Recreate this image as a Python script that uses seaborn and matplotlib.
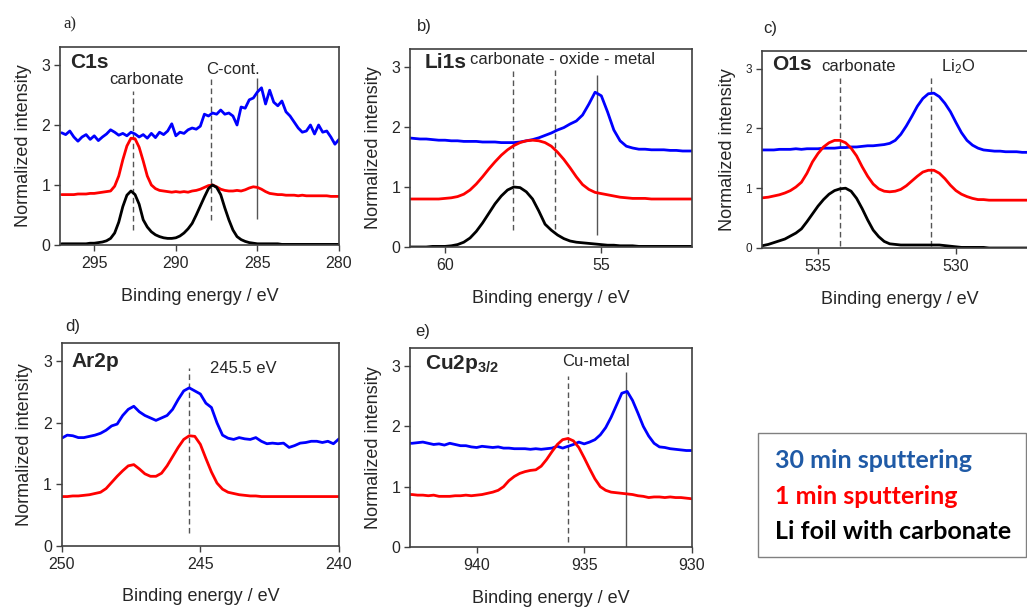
import matplotlib
matplotlib.use("Agg")
import matplotlib.pyplot as plt
import seaborn as sns
from matplotlib.patches import Rectangle

# ---------------- data ----------------
# a) C1s
E_C1s = [297.0, 296.75, 296.5, 296.25, 296.0, 295.75, 295.5, 295.25,
         295.0, 294.75, 294.5, 294.25, 294.0, 293.75, 293.5, 293.25,
         293.0, 292.75, 292.5, 292.25, 292.0, 291.75, 291.5, 291.25,
         291.0, 290.75, 290.5, 290.25, 290.0, 289.75, 289.5, 289.25,
         289.0, 288.75, 288.5, 288.25, 288.0, 287.75, 287.5, 287.25,
         287.0, 286.75, 286.5, 286.25, 286.0, 285.75, 285.5, 285.25,
         285.0, 284.75, 284.5, 284.25, 284.0, 283.75, 283.5, 283.25,
         283.0, 282.75, 282.5, 282.25, 282.0, 281.75, 281.5, 281.25,
         281.0, 280.75, 280.5, 280.25, 280.0]
C1s_foil = [0.02, 0.02, 0.02, 0.02, 0.02, 0.02, 0.02, 0.03,
            0.03, 0.04, 0.05, 0.07, 0.11, 0.20, 0.38, 0.64,
            0.83, 0.90, 0.84, 0.68, 0.42, 0.30, 0.22, 0.17,
            0.14, 0.12, 0.11, 0.11, 0.12, 0.15, 0.20, 0.27,
            0.36, 0.50, 0.65, 0.80, 0.94, 1.00, 0.96, 0.84,
            0.62, 0.42, 0.25, 0.14, 0.09, 0.06, 0.04, 0.03,
            0.02, 0.02, 0.02, 0.02, 0.02, 0.02, 0.01, 0.01,
            0.01, 0.01, 0.01, 0.01, 0.01, 0.01, 0.01, 0.01,
            0.01, 0.01, 0.01, 0.01, 0.01]
C1s_1min = [0.84, 0.84, 0.84, 0.84, 0.85, 0.85, 0.85, 0.86,
            0.86, 0.87, 0.88, 0.89, 0.90, 0.98, 1.15, 1.42,
            1.65, 1.78, 1.77, 1.63, 1.40, 1.15, 1.00, 0.94,
            0.91, 0.90, 0.89, 0.88, 0.89, 0.88, 0.89, 0.88,
            0.90, 0.91, 0.93, 0.96, 0.99, 1.00, 0.97, 0.93,
            0.91, 0.90, 0.90, 0.91, 0.90, 0.92, 0.95, 0.97,
            0.96, 0.93, 0.89, 0.86, 0.85, 0.84, 0.84, 0.83,
            0.83, 0.83, 0.82, 0.83, 0.82, 0.82, 0.82, 0.82,
            0.82, 0.82, 0.81, 0.81, 0.81]
C1s_30min = [1.87, 1.84, 1.90, 1.80, 1.73, 1.80, 1.84, 1.76,
             1.82, 1.74, 1.80, 1.85, 1.92, 1.88, 1.83, 1.86,
             1.82, 1.88, 1.85, 1.80, 1.84, 1.78, 1.86, 1.79,
             1.88, 1.84, 1.90, 2.02, 1.82, 1.88, 1.86, 1.92,
             1.95, 1.93, 1.98, 2.18, 2.15, 2.20, 2.18, 2.25,
             2.18, 2.20, 2.15, 2.00, 2.30, 2.28, 2.42, 2.45,
             2.55, 2.62, 2.35, 2.58, 2.38, 2.32, 2.40, 2.22,
             2.15, 2.05, 1.95, 1.88, 1.90, 2.00, 1.85, 2.00,
             1.88, 1.90, 1.80, 1.68, 1.76]

# b) Li1s
E_Li1s = [61.2, 61.0, 60.8, 60.6, 60.4,
          60.2, 60.0, 59.8, 59.6, 59.4,
          59.2, 59.0, 58.8, 58.6, 58.4,
          58.2, 58.0, 57.8, 57.6, 57.4,
          57.2, 57.0, 56.8, 56.6, 56.4,
          56.2, 56.0, 55.8, 55.6, 55.4,
          55.2, 55.0, 54.8, 54.6, 54.4,
          54.2, 54.0, 53.8, 53.6, 53.4,
          53.2, 53.0, 52.8, 52.6, 52.4,
          52.2, 52.0]
Li1s_foil = [0.00, 0.00, 0.00, 0.00, 0.01,
             0.01, 0.01, 0.02, 0.04, 0.08,
             0.15, 0.26, 0.40, 0.56, 0.72,
             0.85, 0.95, 1.00, 0.99, 0.92,
             0.80, 0.60, 0.38, 0.28, 0.20,
             0.14, 0.10, 0.08, 0.07, 0.06,
             0.05, 0.04, 0.03, 0.03, 0.02,
             0.02, 0.02, 0.01, 0.01, 0.01,
             0.01, 0.01, 0.01, 0.01, 0.01,
             0.01, 0.01]
Li1s_1min = [0.80, 0.80, 0.80, 0.80, 0.80,
             0.80, 0.81, 0.82, 0.84, 0.88,
             0.95, 1.05, 1.17, 1.30, 1.42,
             1.53, 1.62, 1.69, 1.74, 1.77,
             1.78, 1.77, 1.74, 1.68, 1.58,
             1.46, 1.32, 1.17, 1.04, 0.96,
             0.91, 0.89, 0.87, 0.85, 0.83,
             0.82, 0.81, 0.81, 0.81, 0.80,
             0.80, 0.80, 0.80, 0.80, 0.80,
             0.80, 0.80]
Li1s_30min = [1.82, 1.81, 1.80, 1.80, 1.79,
              1.78, 1.78, 1.77, 1.77, 1.76,
              1.76, 1.76, 1.75, 1.75, 1.75,
              1.74, 1.74, 1.74, 1.75, 1.77,
              1.79, 1.82, 1.86, 1.90, 1.95,
              1.99, 2.05, 2.10, 2.20, 2.38,
              2.58, 2.52, 2.25, 1.95, 1.77,
              1.68, 1.65, 1.63, 1.63, 1.62,
              1.62, 1.62, 1.61, 1.61, 1.60,
              1.60, 1.60]

# c) O1s
E_O1s = [537.2, 537.0, 536.8, 536.6, 536.4,
         536.2, 536.0, 535.8, 535.6, 535.4,
         535.2, 535.0, 534.8, 534.6, 534.4,
         534.2, 534.0, 533.8, 533.6, 533.4,
         533.2, 533.0, 532.8, 532.6, 532.4,
         532.2, 532.0, 531.8, 531.6, 531.4,
         531.2, 531.0, 530.8, 530.6, 530.4,
         530.2, 530.0, 529.8, 529.6, 529.4,
         529.2, 529.0, 528.8, 528.6, 528.4,
         528.2, 528.0, 527.8, 527.6, 527.4,
         527.2, 527.0]
O1s_foil = [0.03, 0.04, 0.06, 0.09, 0.12,
            0.15, 0.20, 0.25, 0.32, 0.44,
            0.57, 0.70, 0.81, 0.90, 0.96,
            0.99, 1.00, 0.95, 0.83, 0.66,
            0.47, 0.30, 0.19, 0.11, 0.07,
            0.06, 0.05, 0.05, 0.05, 0.05,
            0.05, 0.05, 0.05, 0.05, 0.04,
            0.03, 0.02, 0.01, 0.01, 0.01,
            0.01, 0.01, 0.00, 0.00, 0.00,
            0.00, 0.00, 0.00, 0.00, 0.00,
            0.00, 0.00]
O1s_1min = [0.83, 0.84, 0.85, 0.87, 0.89,
            0.92, 0.96, 1.02, 1.10, 1.25,
            1.44, 1.58, 1.69, 1.76, 1.80,
            1.80, 1.76, 1.67, 1.54, 1.36,
            1.20, 1.07, 0.99, 0.95, 0.94,
            0.95, 0.98, 1.04, 1.12, 1.20,
            1.27, 1.30, 1.30, 1.25, 1.16,
            1.05, 0.96, 0.90, 0.86, 0.83,
            0.81, 0.81, 0.80, 0.80, 0.80,
            0.80, 0.80, 0.80, 0.80, 0.80,
            0.80, 0.80]
O1s_30min = [1.64, 1.64, 1.64, 1.64, 1.65,
             1.65, 1.65, 1.66, 1.65, 1.66,
             1.66, 1.66, 1.67, 1.67, 1.67,
             1.68, 1.68, 1.69, 1.69, 1.70,
             1.71, 1.71, 1.72, 1.73, 1.75,
             1.80, 1.90, 2.04, 2.20, 2.37,
             2.50, 2.58, 2.59, 2.53, 2.42,
             2.28, 2.10, 1.93, 1.80, 1.72,
             1.67, 1.64, 1.63, 1.62, 1.62,
             1.61, 1.61, 1.61, 1.60, 1.60,
             1.60, 1.60]

# d) Ar2p
E_Ar2p = [250.0, 249.8, 249.6, 249.4, 249.2,
          249.0, 248.8, 248.6, 248.4, 248.2,
          248.0, 247.8, 247.6, 247.4, 247.2,
          247.0, 246.8, 246.6, 246.4, 246.2,
          246.0, 245.8, 245.6, 245.4, 245.2,
          245.0, 244.8, 244.6, 244.4, 244.2,
          244.0, 243.8, 243.6, 243.4, 243.2,
          243.0, 242.8, 242.6, 242.4, 242.2,
          242.0, 241.8, 241.6, 241.4, 241.2,
          241.0, 240.8, 240.6, 240.4, 240.2,
          240.0]
Ar2p_1min = [0.80, 0.80, 0.81, 0.81, 0.82,
             0.83, 0.85, 0.87, 0.93, 1.03,
             1.13, 1.22, 1.30, 1.32, 1.25,
             1.17, 1.13, 1.13, 1.18, 1.30,
             1.45, 1.60, 1.73, 1.79, 1.78,
             1.65, 1.42, 1.20, 1.02, 0.92,
             0.87, 0.85, 0.83, 0.82, 0.81,
             0.81, 0.80, 0.80, 0.80, 0.80,
             0.80, 0.80, 0.80, 0.80, 0.80,
             0.80, 0.80, 0.80, 0.80, 0.80,
             0.80]
Ar2p_30min = [1.75, 1.80, 1.79, 1.76, 1.76,
              1.78, 1.80, 1.83, 1.88, 1.95,
              1.98, 2.12, 2.22, 2.27, 2.18,
              2.12, 2.08, 2.04, 2.08, 2.12,
              2.22, 2.38, 2.52, 2.57, 2.52,
              2.47, 2.32, 2.25, 2.00, 1.80,
              1.75, 1.73, 1.76, 1.74, 1.73,
              1.76, 1.70, 1.66, 1.67, 1.66,
              1.67, 1.60, 1.63, 1.67, 1.68,
              1.70, 1.70, 1.68, 1.70, 1.66,
              1.74]

# e) Cu2p3/2
E_Cu2p = [943.25, 943.0, 942.75, 942.5,
          942.25, 942.0, 941.75, 941.5,
          941.25, 941.0, 940.75, 940.5,
          940.25, 940.0, 939.75, 939.5,
          939.25, 939.0, 938.75, 938.5,
          938.25, 938.0, 937.75, 937.5,
          937.25, 937.0, 936.75, 936.5,
          936.25, 936.0, 935.75, 935.5,
          935.25, 935.0, 934.75, 934.5,
          934.25, 934.0, 933.75, 933.5,
          933.25, 933.0, 932.75, 932.5,
          932.25, 932.0, 931.75, 931.5,
          931.25, 931.0, 930.75, 930.5,
          930.25, 930.0]
Cu2p_1min = [0.87, 0.87, 0.86, 0.86,
             0.85, 0.86, 0.84, 0.84,
             0.84, 0.85, 0.85, 0.86,
             0.85, 0.86, 0.87, 0.89,
             0.91, 0.94, 1.00, 1.10,
             1.17, 1.22, 1.25, 1.27,
             1.28, 1.34, 1.45, 1.58,
             1.70, 1.78, 1.80, 1.76,
             1.65, 1.48, 1.30, 1.13,
             1.00, 0.94, 0.91, 0.90,
             0.89, 0.88, 0.87, 0.85,
             0.84, 0.82, 0.83, 0.83,
             0.82, 0.83, 0.82, 0.82,
             0.81, 0.80]
Cu2p_30min = [1.72, 1.72, 1.73, 1.74,
              1.72, 1.70, 1.71, 1.69,
              1.72, 1.70, 1.68, 1.68,
              1.66, 1.65, 1.67, 1.66,
              1.65, 1.66, 1.64, 1.64,
              1.63, 1.63, 1.63, 1.62,
              1.63, 1.62, 1.63, 1.64,
              1.67, 1.64, 1.67, 1.70,
              1.74, 1.71, 1.74, 1.78,
              1.86, 1.98, 2.15, 2.35,
              2.55, 2.58, 2.43, 2.22,
              2.00, 1.84, 1.72, 1.66,
              1.65, 1.63, 1.62, 1.61,
              1.60, 1.60]

legend_labels = ["30 min sputtering", "1 min sputtering", "Li foil with carbonate"]

# ---------------- style ----------------
sns.set_theme(style="ticks")
plt.rcParams["font.family"] = ["Liberation Sans", "DejaVu Sans"]
plt.rcParams["mathtext.fontset"] = "custom"
plt.rcParams["mathtext.rm"] = "Liberation Sans"
plt.rcParams["mathtext.it"] = "Liberation Sans:italic"
plt.rcParams["mathtext.bf"] = "Liberation Sans:bold"

BLUE = "#0000ff"
RED = "#ff0000"
BLACK = "#000000"
SPINE = "#404040"
REF = "#555555"
LW = 2.0

W, H = 1027, 608
fig = plt.figure(figsize=(W / 100, H / 100), dpi=100)


def px_axes(l, t, r, b):
    return fig.add_axes([l / W, 1 - b / H, (r - l) / W, (b - t) / H])


def style_axes(ax, xlim, xticks, ytick_size=11.5):
    ax.set_xlim(*xlim)
    ax.set_ylim(0, 3.3)
    ax.set_xticks(xticks)
    ax.set_yticks([0, 1, 2, 3])
    ax.set_xlabel("Binding energy / eV", fontsize=13, labelpad=12)
    ax.set_ylabel("Normalized intensity", fontsize=13, labelpad=7)
    ax.tick_params(axis="x", labelsize=11.5, direction="out", length=4,
                   width=1, color=SPINE, pad=4)
    ax.tick_params(axis="y", labelsize=ytick_size, direction="out", length=4,
                   width=1, color=SPINE, pad=3)
    for s in ax.spines.values():
        s.set_color(SPINE)
        s.set_linewidth(1.2)


def draw(ax, E, series):
    for y, c in series:
        sns.lineplot(x=E, y=y, ax=ax, color=c, linewidth=LW,
                     estimator=None, sort=False, legend=False)


def ref_line(ax, x, y0, y1, dashed=True):
    ax.vlines(x, y0, y1, colors=REF, linewidth=1.0,
              linestyles=(0, (4, 2.5)) if dashed else "solid", zorder=1)


# a) C1s
axA = px_axes(60, 47, 339, 245)
ref_line(axA, 292.65, 0.25, 2.57)
ref_line(axA, 287.85, 0.42, 2.76)
ref_line(axA, 285.05, 0.43, 2.78, dashed=False)
draw(axA, E_C1s, [(C1s_30min, BLUE), (C1s_1min, RED), (C1s_foil, BLACK)])
style_axes(axA, (297.1, 280), [295, 290, 285, 280])
axA.text(0.036, 0.92, "C1s", transform=axA.transAxes, fontsize=15,
         fontweight="bold", ha="left", va="center")
axA.text(291.8, 2.76, "carbonate", fontsize=12, ha="center", va="center")
axA.text(286.5, 2.93, "C-cont.", fontsize=12, ha="center", va="center")

# b) Li1s
axB = px_axes(410, 49, 692, 247)
ref_line(axB, 57.82, 0.28, 2.95)
ref_line(axB, 56.49, 0.30, 2.95)
ref_line(axB, 55.15, 0.20, 2.86, dashed=False)
draw(axB, E_Li1s, [(Li1s_30min, BLUE), (Li1s_1min, RED), (Li1s_foil, BLACK)])
style_axes(axB, (61.12, 52.1), [60, 55])
axB.text(0.053, 0.93, "Li1s", transform=axB.transAxes, fontsize=15,
         fontweight="bold", ha="left", va="center")
axB.text(0.213, 0.945, "carbonate - oxide - metal", transform=axB.transAxes,
         fontsize=12, ha="left", va="center")

# c) O1s
axC = px_axes(761.7, 50.7, 1038.7, 248)
ref_line(axC, 534.21, 0.03, 2.84)
ref_line(axC, 530.92, 0.03, 2.90)
draw(axC, E_O1s, [(O1s_30min, BLUE), (O1s_1min, RED), (O1s_foil, BLACK)])
style_axes(axC, (537.04, 527.0), [535, 530], ytick_size=8.5)
axC.text(0.036, 0.93, "O1s", transform=axC.transAxes, fontsize=15,
         fontweight="bold", ha="left", va="center")
axC.text(533.53, 3.04, "carbonate", fontsize=12, ha="center", va="center")
axC.text(529.92, 3.04, r"Li$_2$O", fontsize=12, ha="center", va="center")

# d) Ar2p
axD = px_axes(61.7, 343, 339, 545.7)
ref_line(axD, 245.4, 0.21, 2.9)
draw(axD, E_Ar2p, [(Ar2p_30min, BLUE), (Ar2p_1min, RED)])
style_axes(axD, (250, 240), [250, 245, 240])
axD.text(0.036, 0.91, "Ar2p", transform=axD.transAxes, fontsize=15,
         fontweight="bold", ha="left", va="center")
axD.text(243.45, 2.89, "245.5 eV", fontsize=12, ha="center", va="center")

# e) Cu2p3/2
axE = px_axes(410, 348, 691.7, 547)
ref_line(axE, 935.76, 0.09, 2.84)
ref_line(axE, 933.07, 0.0, 2.90, dashed=False)
draw(axE, E_Cu2p, [(Cu2p_30min, BLUE), (Cu2p_1min, RED)])
style_axes(axE, (943.1, 930), [940, 935, 930])
axE.text(0.053, 0.92, r"Cu2p$_{\mathbf{3/2}}$", transform=axE.transAxes,
         fontsize=15, fontweight="bold", ha="left", va="center")
axE.text(934.47, 3.08, "Cu-metal", fontsize=12, ha="center", va="center")

# panel letters
fig.text(63 / W, 1 - 24 / H, "a)", fontsize=12, family="Liberation Serif",
         ha="left", va="center")
fig.text(417 / W, 1 - 26.5 / H, "b)", fontsize=12, ha="left", va="center")
fig.text(763 / W, 1 - 28.5 / H, "c)", fontsize=12, ha="left", va="center")
fig.text(65 / W, 1 - 326.5 / H, "d)", fontsize=12, ha="left", va="center")
fig.text(415 / W, 1 - 331.5 / H, "e)", fontsize=12, ha="left", va="center")

# legend box
fig.patches.append(Rectangle((758 / W, 1 - 557 / H), 268 / W, 124 / H,
                             transform=fig.transFigure, facecolor="white",
                             edgecolor="#808080", linewidth=1.0))
for lab, col, yc in zip(legend_labels, ["#1f5aa6", RED, BLACK],
                        [460, 496, 531.5]):
    fig.text(775 / W, 1 - yc / H, lab, color=col, fontsize=18,
             fontweight="bold", family=["Lato", "DejaVu Sans"],
             ha="left", va="center")

fig.savefig("out.png", dpi=100)
